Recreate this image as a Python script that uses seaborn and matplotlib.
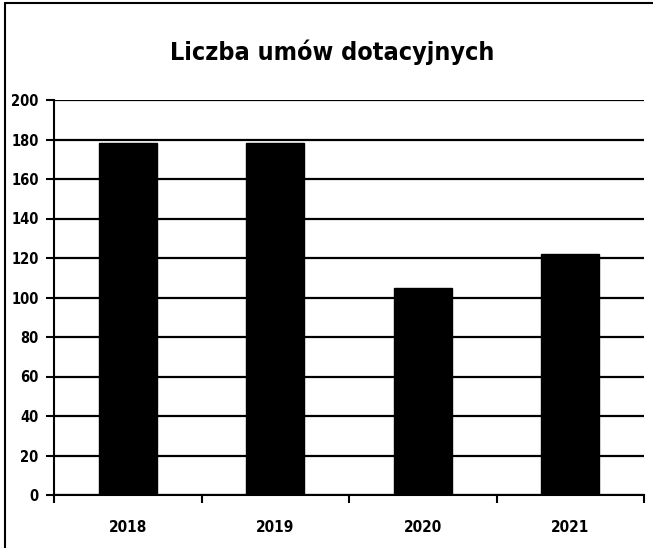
import seaborn as sns, matplotlib.pyplot as plt, pandas as pd
from matplotlib.lines import Line2D
from matplotlib.ticker import FixedLocator

years = ['2018', '2019', '2020', '2021']
counts = [178, 178, 105, 122]
yticks = list(range(0, 201, 20))

sns.set_style('white')
plt.rcParams['font.family'] = ['DejaVu Sans']
plt.rcParams['font.stretch'] = 'condensed'
plt.rcParams['text.color'] = 'black'
plt.rcParams['xtick.color'] = 'black'
plt.rcParams['ytick.color'] = 'black'

df = pd.DataFrame({'rok': years, 'liczba': counts})

fig = plt.figure(figsize=(6.53, 5.48), dpi=100)
ax = fig.add_axes([54/653, 53/548, 590/653, 395/548])

sns.barplot(data=df, x='rok', y='liczba', color='black', width=0.39,
            saturation=1, edgecolor='black', ax=ax, zorder=3)

ax.set_ylim(0, 200)
ax.set_xlim(-0.5, 3.5)
ax.set_yticks(yticks)
ax.yaxis.grid(True, color='black', linewidth=1.6, zorder=0)
ax.set_axisbelow(True)

# x ticks sit between categories, labels in the middle
ax.set_xticks(range(len(years)))
ax.set_xticklabels(years, fontsize=11, fontweight='bold', fontstretch='condensed')
ax.xaxis.set_minor_locator(FixedLocator([-0.5, 0.5, 1.5, 2.5, 3.5]))
ax.tick_params(axis='x', which='major', length=0, pad=18)
ax.tick_params(axis='x', which='minor', length=6, width=1.5, color='black', direction='out', bottom=True)
ax.tick_params(axis='y', length=6, width=1.5, color='black', direction='out', left=True,
               labelsize=10.5, pad=5)
for lab in ax.get_yticklabels():
    lab.set_fontweight('bold')
    lab.set_fontstretch('condensed')

for s in ['top', 'right']:
    ax.spines[s].set_visible(False)
for s in ['left', 'bottom']:
    ax.spines[s].set_color('black')
    ax.spines[s].set_linewidth(1.5)

ax.set_xlabel('')
ax.set_ylabel('')

fig.text(0.508, 0.905, 'Liczba umów dotacyjnych', ha='center', va='center',
         fontsize=18, fontweight='bold', fontstretch='condensed', color='black')

# frame around the chart (left and top edges visible in the scan)
fig.add_artist(Line2D([5/653, 5/653], [0, 545/548], color='black', lw=1.5))
fig.add_artist(Line2D([5/653, 1], [545/548, 545/548], color='black', lw=1.5))

fig.savefig('out.png', dpi=100)
